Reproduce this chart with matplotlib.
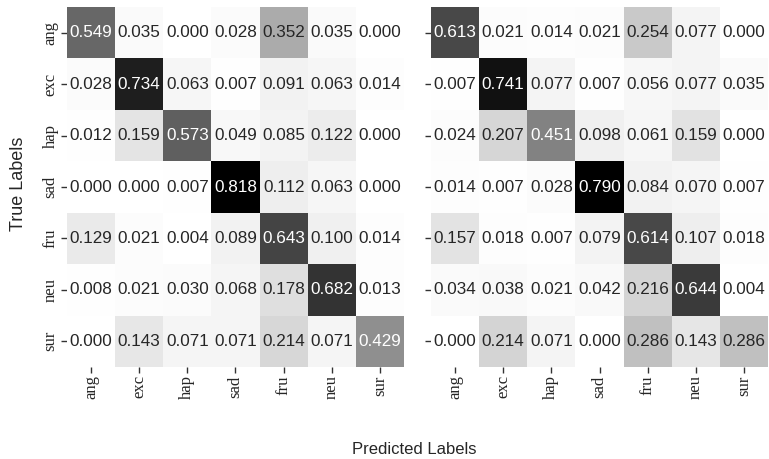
import numpy as np
import matplotlib
matplotlib.use('Agg')
import matplotlib.pyplot as plt
import seaborn as sns

labels = ['ang', 'exc', 'hap', 'sad', 'fru', 'neu', 'sur']

cm_left = [
    [0.549, 0.035, 0.000, 0.028, 0.352, 0.035, 0.000],
    [0.028, 0.734, 0.063, 0.007, 0.091, 0.063, 0.014],
    [0.012, 0.159, 0.573, 0.049, 0.085, 0.122, 0.000],
    [0.000, 0.000, 0.007, 0.818, 0.112, 0.063, 0.000],
    [0.129, 0.021, 0.004, 0.089, 0.643, 0.100, 0.014],
    [0.008, 0.021, 0.030, 0.068, 0.178, 0.682, 0.013],
    [0.000, 0.143, 0.071, 0.071, 0.214, 0.071, 0.429],
]

cm_right = [
    [0.613, 0.021, 0.014, 0.021, 0.254, 0.077, 0.000],
    [0.007, 0.741, 0.077, 0.007, 0.056, 0.077, 0.035],
    [0.024, 0.207, 0.451, 0.098, 0.061, 0.159, 0.000],
    [0.014, 0.007, 0.028, 0.790, 0.084, 0.070, 0.007],
    [0.157, 0.018, 0.007, 0.079, 0.614, 0.107, 0.018],
    [0.034, 0.038, 0.021, 0.042, 0.216, 0.644, 0.004],
    [0.000, 0.214, 0.071, 0.000, 0.286, 0.143, 0.286],
]

sns.set_style('ticks')
plt.rcParams['font.family'] = ['Liberation Sans', 'DejaVu Sans']

fig = plt.figure(figsize=(7.69, 4.59), dpi=100)
ax1 = fig.add_axes([67 / 769, 92 / 459, 337 / 769, 360 / 459])
ax2 = fig.add_axes([431 / 769, 92 / 459, 337 / 769, 360 / 459])

for ax, cm, show_y in [(ax1, cm_left, True), (ax2, cm_right, False)]:
    sns.heatmap(np.array(cm), annot=True, fmt='.3f', cmap='Greys', cbar=False,
                xticklabels=labels, yticklabels=labels if show_y else False,
                annot_kws={'fontsize': 12.3, 'family': 'Liberation Sans'}, ax=ax)
    ax.tick_params(axis='both', length=4, width=1, color='#333333', pad=2)
    for t in ax.get_xticklabels():
        t.set_rotation(90)
        t.set_fontfamily('Liberation Serif')
        t.set_fontsize(12)
        t.set_color('#262626')
    if show_y:
        for t in ax.get_yticklabels():
            t.set_rotation(90)
            t.set_va('center')
            t.set_fontfamily('Liberation Serif')
            t.set_fontsize(12)
            t.set_color('#262626')
    else:
        ax.set_yticks(np.arange(len(labels)) + 0.5)
        ax.set_yticklabels([])

fig.text(19 / 769, 1 - 184 / 459, 'True Labels', rotation=90, ha='center', va='center',
         fontsize=13, color='#262626')
fig.text(414 / 769, 1 - 450 / 459, 'Predicted Labels', ha='center', va='center',
         fontsize=12, color='#262626')

fig.savefig('out.png', dpi=100)
